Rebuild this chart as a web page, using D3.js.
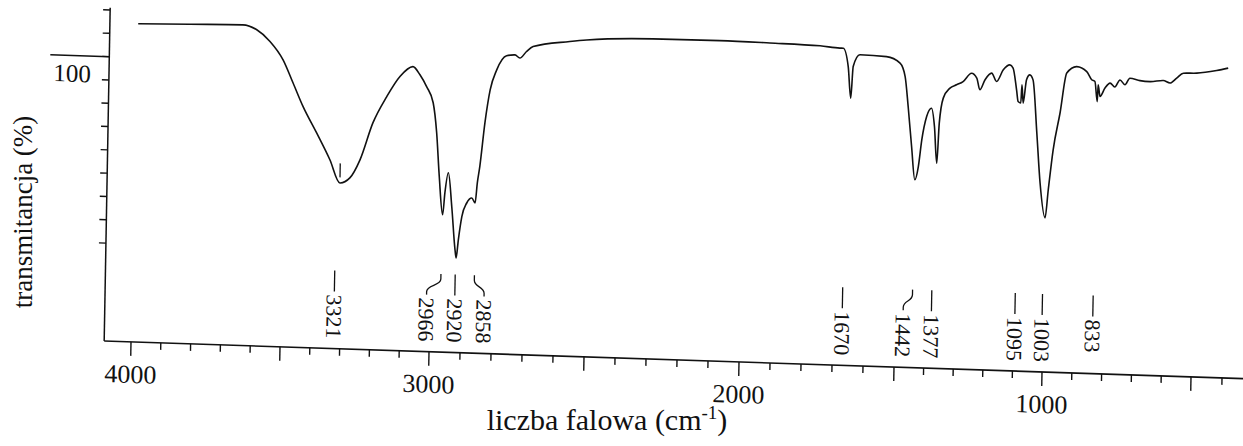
<!DOCTYPE html>
<html><head><meta charset="utf-8">
<script src="https://cdn.jsdelivr.net/npm/d3@7"></script>
<style>html,body{margin:0;padding:0;background:#fff;} svg{display:block}</style>
</head><body>
<svg id="chart" width="1243" height="446"></svg>
<script>
// ---- data ----
const wavenumbers = [3995,3821,3644,3597,3552,3507,3472,3437,3390,3344,3309,3276,3243,3202,3157,3114,3071,3047,3024,3001,2988,2977,2964,2958,2948,2935,2922,2918,2912,2902,2887,2871,2860,2854,2847,2833,2818,2798,2767,2740,2724,2703,2682,2564,2510,2296,2080,1919,1757,1693,1682,1665,1655,1649,1628,1542,1498,1480,1468,1454,1441,1430,1420,1405,1389,1378,1368,1362,1350,1328,1306,1284,1256,1238,1227,1210,1188,1171,1149,1127,1116,1103,1097,1088,1085,1080,1070,1059,1048,1032,1018,999,990,976,955,935,902,868,851,840,831,829,822,806,789,773,756,739,723,689,655,611,588,566,544,499,435,398];
const transmittance = [124.5,125.0,125.5,123.6,118.8,111.1,101.3,91.3,80.2,68.9,59.1,61.4,69.3,85.3,96.8,105.6,110.0,106.6,101.6,94.8,82.0,63.2,46.9,56.3,65.0,50.5,32.0,28.6,36.3,46.4,52.3,54.5,52.4,61.1,68.1,86.9,101.1,109.8,116.0,116.5,115.2,118.1,120.3,123.0,123.9,125.3,125.5,125.2,124.7,124.0,124.0,116.2,102.7,116.3,121.4,121.0,118.4,112.7,99.9,82.8,68.6,74.3,85.8,95.9,99.5,91.7,76.0,93.2,104.0,108.4,109.9,111.4,115.1,113.1,108.1,112.5,115.4,111.9,117.0,119.2,117.9,108.6,103.6,103.0,110.8,103.0,113.1,115.2,113.1,90.4,69.0,54.1,66.2,83.4,99.4,116.5,119.4,117.4,114.0,113.3,104.7,111.9,106.9,110.6,112.8,111.2,114.3,112.3,115.2,114.3,114.0,114.7,113.7,115.9,118.1,118.3,119.7,120.9];
const peakLabels = ["3321","2966","2920","2858","1670","1442","1377","1095","1003","833"];
const markerWn = [3309];
const markerLow = [61.5];
const markerHigh = [67.5];
const xTickValues = d3.range(400, 4001, 100);
const xTickLabels = [4000, 3000, 2000, 1000];
const yTickValues = d3.range(30, 131, 10);
const yTickLabels = [100];
const refLineLevel = [110];

// ---- layout ----
const svg = d3.select("#chart");
const g = svg.append("g").attr("transform", "matrix(1,0.033,-0.018,1,104,341)");
const x = d3.scaleLinear()
  .domain([4000, 3000, 2000, 1500, 1000, 500, 400])
  .range([27, 325, 635, 790, 938, 1087, 1118]);
const y = d3.scaleLinear().domain([-12, 130]).range([0, -331]);
const serif = "'Liberation Serif','Times New Roman',serif";
const labelShift = {"2966": -14, "2858": 10, "1442": -9};

// axes lines
g.append("line").attr("x1", x(4090)).attr("x2", x(330)).attr("y1", y(-12)).attr("y2", y(-12))
  .attr("stroke", "#111").attr("stroke-width", 1.6);
g.append("line").attr("x1", x(4090)).attr("x2", x(4090)).attr("y1", y(-12)).attr("y2", y(131))
  .attr("stroke", "#111").attr("stroke-width", 1.5);

// x ticks
g.selectAll(".xt").data(xTickValues).enter().append("line")
  .attr("x1", d => x(d)).attr("x2", d => x(d))
  .attr("y1", y(-12)).attr("y2", d => y(-12) + (d % 500 === 0 ? 14 : 7))
  .attr("stroke", "#111").attr("stroke-width", 1.4);
g.selectAll(".xl").data(xTickLabels).enter().append("text")
  .attr("x", d => x(d)).attr("y", y(-12) + 41)
  .attr("text-anchor", "middle").attr("font-family", serif).attr("font-size", 26)
  .attr("fill", "#111").text(d => d);

// y ticks
g.selectAll(".yt").data(yTickValues).enter().append("line")
  .attr("x1", x(4090)).attr("x2", x(4090) - 7)
  .attr("y1", d => y(d)).attr("y2", d => y(d))
  .attr("stroke", "#111").attr("stroke-width", 1.4);
g.selectAll(".yl").data(yTickLabels).enter().append("text")
  .attr("x", x(4090) - 18).attr("y", d => y(d) + 3)
  .attr("text-anchor", "end").attr("font-family", serif).attr("font-size", 25)
  .attr("fill", "#111").text(d => d);
g.selectAll(".ref").data(refLineLevel).enter().append("line")
  .attr("x1", x(4090) - 59).attr("x2", x(4090))
  .attr("y1", d => y(d)).attr("y2", d => y(d))
  .attr("stroke", "#111").attr("stroke-width", 1.5);

// spectrum
const line = d3.line()
  .x((d, i) => x(wavenumbers[i]))
  .y((d, i) => y(transmittance[i]))
  .curve(d3.curveMonotoneX);
g.append("path").datum(wavenumbers).attr("d", line)
  .attr("fill", "none").attr("stroke", "#111").attr("stroke-width", 1.6)
  .attr("stroke-linejoin", "round");

// peak marker
g.selectAll(".pm").data(markerWn).enter().append("line")
  .attr("x1", d => x(d)).attr("x2", d => x(d))
  .attr("y1", (d, i) => y(markerLow[i])).attr("y2", (d, i) => y(markerHigh[i]))
  .attr("stroke", "#111").attr("stroke-width", 1.3);

// peak labels
const pl = g.selectAll(".pl").data(peakLabels).enter().append("g");
pl.append("path").attr("d", d => {
  const u0 = x(+d), s = labelShift[d] || 0, u1 = u0 + s;
  if (!s) return `M${u0},-78L${u0},-57`;
  return `M${u0},-78L${u0},-73C${u0},-66 ${u1},-67 ${u1},-60L${u1},-57`;
}).attr("fill", "none").attr("stroke", "#111").attr("stroke-width", 1.3);
pl.append("text")
  .attr("transform", d => `translate(${x(+d) + (labelShift[d] || 0)},-54) rotate(90)`)
  .attr("dominant-baseline", "central")
  .attr("font-family", serif).attr("font-size", 22).attr("fill", "#111")
  .text(d => d);

// titles
svg.append("text").attr("x", 607).attr("y", 430).attr("text-anchor", "middle")
  .attr("font-family", serif).attr("font-size", 30).attr("fill", "#111")
  .call(t => {
    t.append("tspan").text("liczba falowa (cm");
    t.append("tspan").attr("dy", -11).attr("font-size", 19).text("-1");
    t.append("tspan").attr("dy", 11).text(")");
  });
svg.append("text").attr("transform", "translate(32,212) rotate(-90)")
  .attr("text-anchor", "middle").attr("font-family", serif).attr("font-size", 27)
  .attr("fill", "#111").text("transmitancja (%)");
</script>
</body></html>
